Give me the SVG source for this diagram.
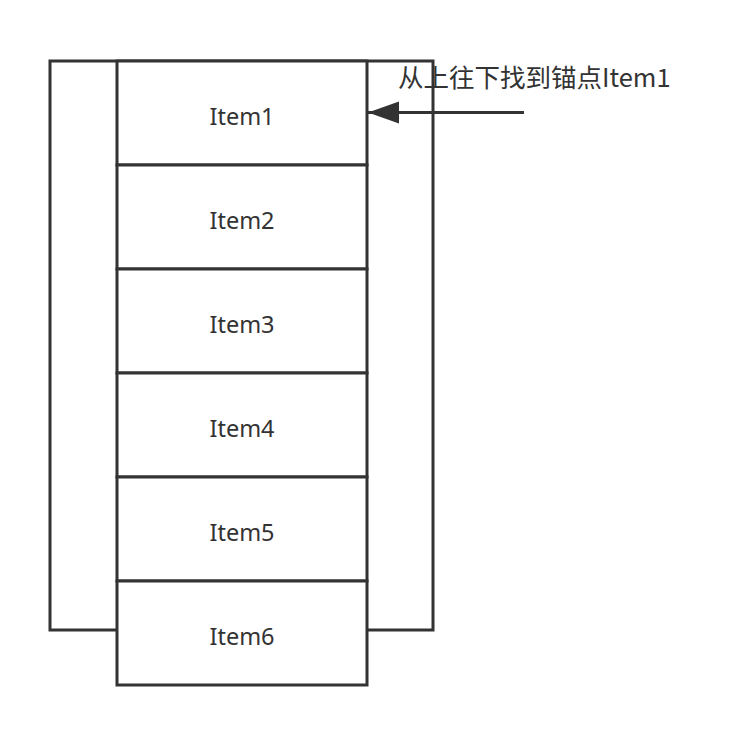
<svg xmlns="http://www.w3.org/2000/svg" width="732" height="735" viewBox="0 0 732 735">
<style>
.box{fill:#fff;stroke:#333;stroke-width:3}
.lbl{font-family:"Noto Sans","Noto Sans CJK SC",sans-serif;font-size:23.5px;fill:#333;text-anchor:middle}
.cap{font-family:"Noto Sans CJK SC","Noto Sans",sans-serif;font-size:25.5px;fill:#333}
</style>
<defs>
<marker id="ah" markerUnits="userSpaceOnUse" markerWidth="32" markerHeight="24" refX="31" refY="12" orient="auto">
<path d="M0,1 L31,12 L0,23 Z" fill="#333"/>
</marker>
</defs>
<rect x="0" y="0" width="732" height="735" fill="#fff"/>
<g id="container"><rect class="box" x="50" y="61" width="383" height="569"/></g>
<g id="item1"><rect class="box" x="117" y="61" width="250" height="104"/><text class="lbl" x="242" y="125">Item1</text></g>
<g id="item2"><rect class="box" x="117" y="165" width="250" height="104"/><text class="lbl" x="242" y="229">Item2</text></g>
<g id="item3"><rect class="box" x="117" y="269" width="250" height="104"/><text class="lbl" x="242" y="333">Item3</text></g>
<g id="item4"><rect class="box" x="117" y="373" width="250" height="104"/><text class="lbl" x="242" y="437">Item4</text></g>
<g id="item5"><rect class="box" x="117" y="477" width="250" height="104"/><text class="lbl" x="242" y="541">Item5</text></g>
<g id="item6"><rect class="box" x="117" y="581" width="250" height="104"/><text class="lbl" x="242" y="645">Item6</text></g>
<g id="connectors">
<line x1="524" y1="112.5" x2="368" y2="112.5" stroke="#333" stroke-width="3" marker-end="url(#ah)"/>
</g>
<g id="caption"><text class="cap" x="398" y="87">从上往下找到锚点Item1</text></g>
</svg>
